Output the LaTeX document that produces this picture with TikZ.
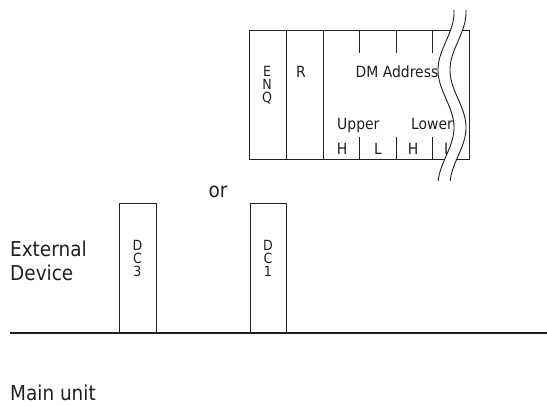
\documentclass[tikz,border=0pt]{standalone}
\usepackage{fontspec}
\setmainfont{DejaVu Sans Condensed}
\definecolor{ink}{HTML}{231F20}
\begin{document}
\begin{tikzpicture}[x=1pt,y=-1pt,
  thin line/.style={draw=ink,line width=0.9pt},
  base line/.style={draw=ink,line width=1.8pt},
  big/.style={inner sep=0pt,text=ink,font=\fontsize{20.5}{24}\selectfont},
  small/.style={inner sep=0pt,text=ink,font=\fontsize{15.5}{18}\selectfont},
  letter/.style={inner sep=0pt,text=ink,font=\fontsize{14}{16}\selectfont,
    anchor=base,text height=10pt,text depth=0pt}]
\useasboundingbox (0,0) rectangle (547,405);
% top frame
\draw[thin line] (249,30) rectangle (469,159);
\draw[thin line] (286,30) -- (286,159);
\draw[thin line] (323,30) -- (323,159);
\foreach \xx in {359,396,432}{
  \draw[thin line] (\xx,30) -- (\xx,53);
  \draw[thin line] (\xx,137) -- (\xx,159);
}
\node[letter] (e) at (267,76.5) {E};
\node[letter] (n) at (267,89.5) {N};
\node[letter] (q) at (267,102.5) {Q};
\node[small,anchor=base] (r) at (301,77) {R};
\node[small,anchor=base] (dm) at (397,77) {DM Address};
\node[small,anchor=base west] (upper) at (337,129) {Upper};
\node[small,anchor=base west] (lower) at (411,129) {Lower};
\node[small,anchor=base] (h1) at (342,154) {H};
\node[small,anchor=base] (l1) at (378,154) {L};
\node[small,anchor=base] (h2) at (413,154) {H};
\node[small,anchor=base] (l2) at (448,154) {L};
% break mark
\draw[white,line width=11pt] plot[domain=10:181,samples=80,smooth,variable=\t]
  ({452-8*cos(deg(2*pi*(\t-70)/115))},\t);
\draw[thin line] plot[domain=10:181,samples=80,smooth,variable=\t]
  ({446-8*cos(deg(2*pi*(\t-70)/115))},\t);
\draw[thin line] plot[domain=10:181,samples=80,smooth,variable=\t]
  ({458-8*cos(deg(2*pi*(\t-70)/115))},\t);
% or
\node[big,anchor=base] (or) at (218,197) {or};
% external device side
\node[big,anchor=base west] (ext) at (10,256) {External};
\node[big,anchor=base west] (dev) at (10,280) {Device};
\draw[thin line] (119,333) -- (119,203) -- (156,203) -- (156,333);
\draw[thin line] (250,333) -- (250,203) -- (286,203) -- (286,333);
\node[letter] (d3) at (137.5,250) {D};
\node[letter] (c3) at (137.5,263) {C};
\node[letter] (three) at (137.5,276) {3};
\node[letter] (d1) at (268,250) {D};
\node[letter] (c1) at (268,263) {C};
\node[letter] (one) at (268,276) {1};
\draw[base line] (10,333) -- (547,333);
\node[big,anchor=base west] (main) at (10,400) {Main unit};
\end{tikzpicture}
\end{document}
